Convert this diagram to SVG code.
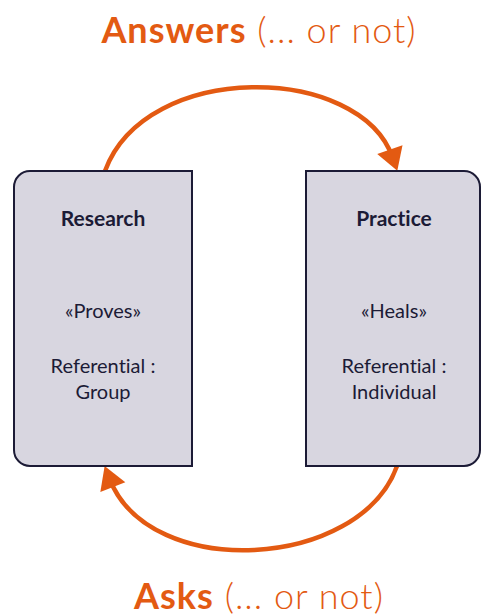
<svg xmlns="http://www.w3.org/2000/svg" width="482" height="616" viewBox="0 0 482 616">
<style>
.box{fill:#d8d6e0;stroke:#1c1b36;stroke-width:2}
.t{font-family:Lato,"Liberation Sans",sans-serif;fill:#1c1b36;text-anchor:middle;font-variant-ligatures:none}
.h{font-size:21px;font-weight:700}
.b{font-size:20px;font-weight:400}
.lab{font-family:Lato,"Liberation Sans",sans-serif;fill:#e35a12;text-anchor:middle;font-size:36px;letter-spacing:1px}
.c{fill:none;stroke:#e35a12;stroke-width:4.5}
</style>
<defs>
<marker id="ah" markerUnits="userSpaceOnUse" markerWidth="30" markerHeight="30" viewBox="-1 -14 24 28" refX="8" refY="0" orient="auto">
<path d="M0,-12.5 L21,0 L0,12.5 Z" fill="#e35a12"/>
</marker>
</defs>
<rect width="482" height="616" fill="#ffffff"/>
<g id="connectors">
<path class="c" d="M105,171 C146,60 359.7,63.4 392.7,157.7" marker-end="url(#ah)"/>
<path class="c" d="M397,466 C360,570 149.7,581.6 109.7,479.1" marker-end="url(#ah)"/>
</g>
<g id="research">
<path class="box" d="M192,171 H30 A16 16 0 0 0 14 187 V450 A16 16 0 0 0 30 466 H192 Z"/>
<text class="t h" x="103" y="226">Research</text>
<text class="t b" x="103" y="318">«Proves»</text>
<text class="t b" x="103" y="373">Referential :</text>
<text class="t b" x="103" y="399">Group</text>
</g>
<g id="practice">
<path class="box" d="M306,171 H464 A16 16 0 0 1 480 187 V450 A16 16 0 0 1 464 466 H306 Z"/>
<text class="t h" x="394" y="226">Practice</text>
<text class="t b" x="394" y="318">«Heals»</text>
<text class="t b" x="394" y="373">Referential :</text>
<text class="t b" x="394" y="399">Individual</text>
</g>
<g id="label-answers">
<text class="lab" x="259" y="43"><tspan font-weight="700">Answers</tspan><tspan font-weight="300"> (... or not)</tspan></text>
</g>
<g id="label-asks">
<text class="lab" x="259" y="609"><tspan font-weight="700">Asks</tspan><tspan font-weight="300"> (... or not)</tspan></text>
</g>
</svg>
